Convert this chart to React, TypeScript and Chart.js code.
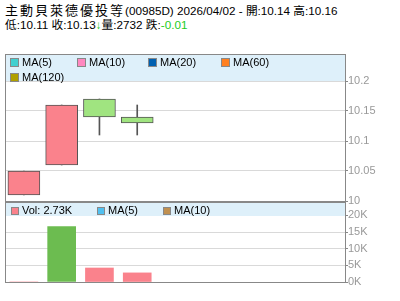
import React, { useEffect, useRef } from "react";
import { Chart, registerables } from "chart.js";
Chart.register(...registerables);

// ---- data ----
const stockName = "主動貝萊德優投等";
const stockCode = "00985D";
const categories = ["2026/03/30", "2026/03/31", "2026/04/01", "2026/04/02", "", "", "", "", ""];
const opens = [10.01, 10.06, 10.17, 10.14];
const closes = [10.05, 10.16, 10.14, 10.13];
const highs = [10.05, 10.16, 10.17, 10.16];
const lows = [10.01, 10.06, 10.11, 10.11];
const volumes = [0, 16600, 4200, 2732];
const volumeColors = ["#fa828c", "#6cbc50", "#fa828c", "#fa828c"];
const priceTicks = [10, 10.05, 10.1, 10.15, 10.2];
const volumeTicks = [0, 5000, 10000, 15000, 20000];
const maLabels = ["MA(5)", "MA(10)", "MA(20)", "MA(60)", "MA(120)"];
const maColors = ["#40d0d0", "#ff88c0", "#0060b0", "#ff8020", "#b0a000"];
const volLegendLabels = ["MA(5)", "MA(10)"];
const volLegendColors = ["#50c0f0", "#c09050"];

const UP = "#fa828c";
const DOWN = "#a0e480";
const LATIN = '"Liberation Sans", Arial, "Noto Sans CJK TC", sans-serif';
const CJK = '"Noto Sans CJK TC", "Liberation Sans", sans-serif';

const fmtPrice = (v: number) => String(+v.toFixed(2));

export default function App() {
  const mainRef = useRef<HTMLCanvasElement>(null);
  const volRef = useRef<HTMLCanvasElement>(null);

  useEffect(() => {
    const yAxisCommon = (min: number, max: number, tickValues: number[], cb: (v: number) => string) => ({
      position: "right" as const,
      min,
      max,
      afterFit: (s: any) => {
        s.width = 55;
      },
      afterBuildTicks: (s: any) => {
        s.ticks = tickValues.map((v) => ({ value: v }));
      },
      ticks: {
        autoSkip: false,
        padding: 0,
        color: "#999",
        font: { family: LATIN, size: 11 },
        callback: (v: any) => cb(Number(v)),
      },
      grid: { color: "#d9d9d9", tickColor: "#888", tickLength: 3, drawOnChartArea: true },
      border: { display: true, color: "#888" },
    });

    const main = new Chart(mainRef.current!, {
      type: "bar",
      data: {
        labels: categories,
        datasets: [
          {
            label: "wick",
            data: highs.map((h, i) => [lows[i], h]) as any,
            backgroundColor: "#555",
            borderWidth: 0,
            barThickness: 1,
            grouped: false,
            order: 2,
          },
          {
            label: "body",
            data: opens.map((o, i) => [o, closes[i]]) as any,
            backgroundColor: opens.map((o, i) => (closes[i] >= o ? UP : DOWN)),
            borderColor: "#555",
            borderWidth: 1,
            borderSkipped: false,
            barThickness: 32,
            grouped: false,
            order: 1,
          },
        ],
      },
      options: {
        animation: false,
        responsive: false,
        devicePixelRatio: 1,
        layout: { padding: { left: 5, top: 54, right: 0, bottom: 14 } },
        plugins: { legend: { display: false }, tooltip: { enabled: false } },
        scales: {
          x: { display: false, offset: true },
          y: yAxisCommon(priceTicks[0], 10.245, priceTicks, fmtPrice) as any,
        },
      },
    });

    const vol = new Chart(volRef.current!, {
      type: "bar",
      data: {
        labels: categories,
        datasets: [
          {
            label: "Vol",
            data: volumes,
            backgroundColor: volumeColors,
            borderWidth: 0,
            barThickness: 28,
          },
        ],
      },
      options: {
        animation: false,
        responsive: false,
        devicePixelRatio: 1,
        layout: { padding: { left: 5, top: 7, right: 0, bottom: 19 } },
        plugins: { legend: { display: false }, tooltip: { enabled: false } },
        scales: {
          x: { display: false, offset: true },
          y: yAxisCommon(volumeTicks[0], 24000, volumeTicks, (v) => v / 1000 + "K") as any,
        },
      },
    });

    return () => {
      main.destroy();
      vol.destroy();
    };
  }, []);

  const n = opens.length - 1;
  const change = +(closes[n] - closes[n - 1]).toFixed(2);
  const changeLabel = change < 0 ? "跌" : "漲";
  const changeColor = change < 0 ? "#22cc22" : "#ee2222";

  const abs = (s: React.CSSProperties): React.CSSProperties => ({ position: "absolute", ...s });

  const sq = (color: string, left: number, top: number, size: number) => (
    <div
      style={abs({
        left,
        top,
        width: size,
        height: size,
        boxSizing: "border-box",
        border: "1px solid #888",
        background: color,
      })}
    />
  );

  const mainLegendPos = [
    [10, 58],
    [77, 58],
    [148, 58],
    [221, 58],
    [10, 73],
  ];
  const volLegendPos = [97, 163];

  return (
    <div
      style={{
        position: "fixed",
        left: 0,
        top: 0,
        width: 400,
        height: 301,
        background: "#fff",
        overflow: "hidden",
        fontFamily: LATIN,
        color: "#000",
      }}
    >
      {/* header */}
      <div style={abs({ left: 5, top: 3, fontFamily: CJK, fontSize: 13, lineHeight: "14px", letterSpacing: 2, whiteSpace: "nowrap" })}>
        {stockName}
      </div>
      <div style={abs({ left: 125, top: 4, fontSize: 11.7, lineHeight: "14px", whiteSpace: "nowrap" })}>
        ({stockCode}) {categories[n]} - 開:{fmtPrice(opens[n])} 高:{fmtPrice(highs[n])}
      </div>
      <div style={abs({ left: 5, top: 18, fontSize: 11.7, lineHeight: "14px", whiteSpace: "nowrap" })}>
        低:{fmtPrice(lows[n])} 收:{fmtPrice(closes[n])}
        <span style={{ color: changeColor, fontWeight: "bold" }}>{change < 0 ? "↓" : "↑"}</span>
        量:{volumes[n]} {changeLabel}:<span style={{ color: changeColor }}>{change.toFixed(2)}</span>
      </div>

      <canvas ref={mainRef} width={400} height={215} style={abs({ left: 0, top: 0 })} />
      <canvas ref={volRef} width={400} height={106} style={abs({ left: 0, top: 195 })} />

      {/* main legend band */}
      <div style={abs({ left: 6, top: 55, width: 339, height: 26, background: "#def0fa" })} />
      {maLabels.map((l, i) => (
        <React.Fragment key={l}>
          {sq(maColors[i], mainLegendPos[i][0], mainLegendPos[i][1], 9)}
          <div style={abs({ left: mainLegendPos[i][0] + 12, top: mainLegendPos[i][1] - 3, fontSize: 11, lineHeight: "14px", whiteSpace: "nowrap" })}>
            {l}
          </div>
        </React.Fragment>
      ))}

      {/* volume legend band */}
      <div style={abs({ left: 6, top: 203, width: 339, height: 13, background: "#def0fa" })} />
      {sq(volumeColors[n], 11, 207, 8)}
      <div style={abs({ left: 22, top: 203, fontSize: 11, lineHeight: "14px", whiteSpace: "nowrap" })}>
        Vol: {(volumes[n] / 1000).toFixed(2)}K
      </div>
      {volLegendLabels.map((l, i) => (
        <React.Fragment key={l}>
          {sq(volLegendColors[i], volLegendPos[i], 207, 8)}
          <div style={abs({ left: volLegendPos[i] + 11, top: 203, fontSize: 11, lineHeight: "14px", whiteSpace: "nowrap" })}>
            {l}
          </div>
        </React.Fragment>
      ))}

      {/* frames */}
      <div style={abs({ left: 5, top: 54, width: 341, height: 148, boxSizing: "border-box", border: "1px solid #888" })} />
      <div style={abs({ left: 5, top: 202, width: 341, height: 81, boxSizing: "border-box", border: "1px solid #888" })} />
    </div>
  );
}
